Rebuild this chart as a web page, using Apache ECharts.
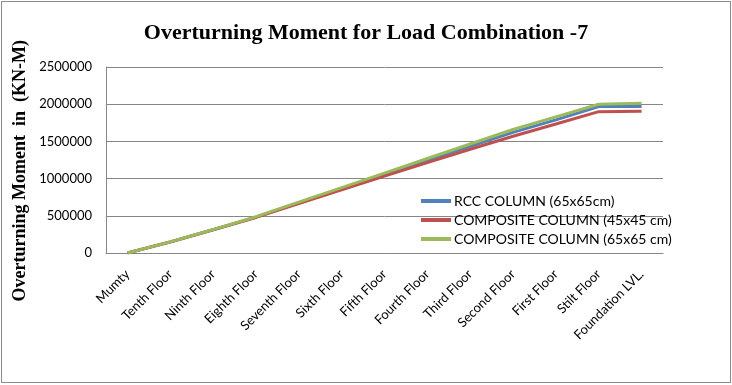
<!DOCTYPE html>
<html>
<head>
<meta charset="utf-8">
<script src="https://cdn.jsdelivr.net/npm/echarts@6/dist/echarts.min.js"></script>
<style>
html,body{margin:0;padding:0;background:#fff;}
#frame{position:absolute;left:1px;top:1px;width:728px;height:380px;border:1px solid #8c8c8c;}
#chart{position:absolute;left:0;top:0;width:732px;height:385px;}
</style>
</head>
<body>
<div id="frame"></div>
<div id="chart"></div>
<script>
const categories = ["Mumty","Tenth Floor","Ninth Floor","Eighth Floor","Seventh Floor","Sixth Floor","Fifth Floor","Fourth Floor","Third Floor","Second Floor","First Floor","Stilt Floor","Foundation LVL."];
const rccColumn = [0,149000,313000,483000,675000,866000,1056000,1248000,1435000,1622000,1790000,1968000,1970000];
const composite4545 = [0,148000,312000,478000,663000,848000,1033000,1215000,1395000,1570000,1733000,1900000,1906000];
const composite6565 = [0,150000,315000,488000,683000,878000,1073000,1270000,1465000,1660000,1830000,2000000,2013000];
const seriesNames = ["RCC COLUMN (65x65cm)","COMPOSITE COLUMN (45x45 cm)","COMPOSITE COLUMN (65x65 cm)"];
const titleText = "Overturning Moment for Load Combination -7";
const yAxisTitle = "Overturning Moment  in  (KN-M)";

const chart = echarts.init(document.getElementById('chart'));
const colors = ['#4F81BD','#C0504D','#9BBB59'];
const labelFont = 'Lato, "Liberation Sans", sans-serif';
chart.setOption({
  animation:false,
  title:{text:titleText,left:'center',top:17,
    textStyle:{fontFamily:'"Liberation Serif", serif',fontSize:22,fontWeight:'bold',color:'#000'}},
  grid:{left:106,right:69,top:67,bottom:132},
  legend:{orient:'vertical',left:416,top:189,itemWidth:30,itemHeight:4,itemGap:5,
    icon:'rect',
    textStyle:{fontFamily:labelFont,fontSize:14,color:'#000',padding:[0,0,0,-2]},
    data:seriesNames},
  graphic:[{type:'text',left:11,top:40,rotation:Math.PI/2,
    style:{text:yAxisTitle,font:'bold 18px "Liberation Serif", serif',fill:'#000'}}],
  xAxis:{type:'category',data:categories,boundaryGap:true,
    axisLine:{lineStyle:{color:'#868686'}},
    axisTick:{show:false},
    axisLabel:{rotate:45,interval:0,fontFamily:labelFont,fontSize:13,color:'#000',margin:19}},
  yAxis:{type:'value',min:0,max:2500000,interval:500000,
    axisLine:{show:true,lineStyle:{color:'#868686'}},
    axisTick:{show:false},
    splitLine:{lineStyle:{color:'#868686'}},
    axisLabel:{fontFamily:labelFont,fontSize:13,color:'#000',margin:14,formatter:function(v){return String(v);}}},
  series:[
    {name:seriesNames[0],type:'line',data:rccColumn,showSymbol:false,lineStyle:{width:3,color:colors[0]},itemStyle:{color:colors[0]}},
    {name:seriesNames[1],type:'line',data:composite4545,showSymbol:false,lineStyle:{width:3,color:colors[1]},itemStyle:{color:colors[1]}},
    {name:seriesNames[2],type:'line',data:composite6565,showSymbol:false,lineStyle:{width:3,color:colors[2]},itemStyle:{color:colors[2]}}
  ]
});
</script>
</body>
</html>
